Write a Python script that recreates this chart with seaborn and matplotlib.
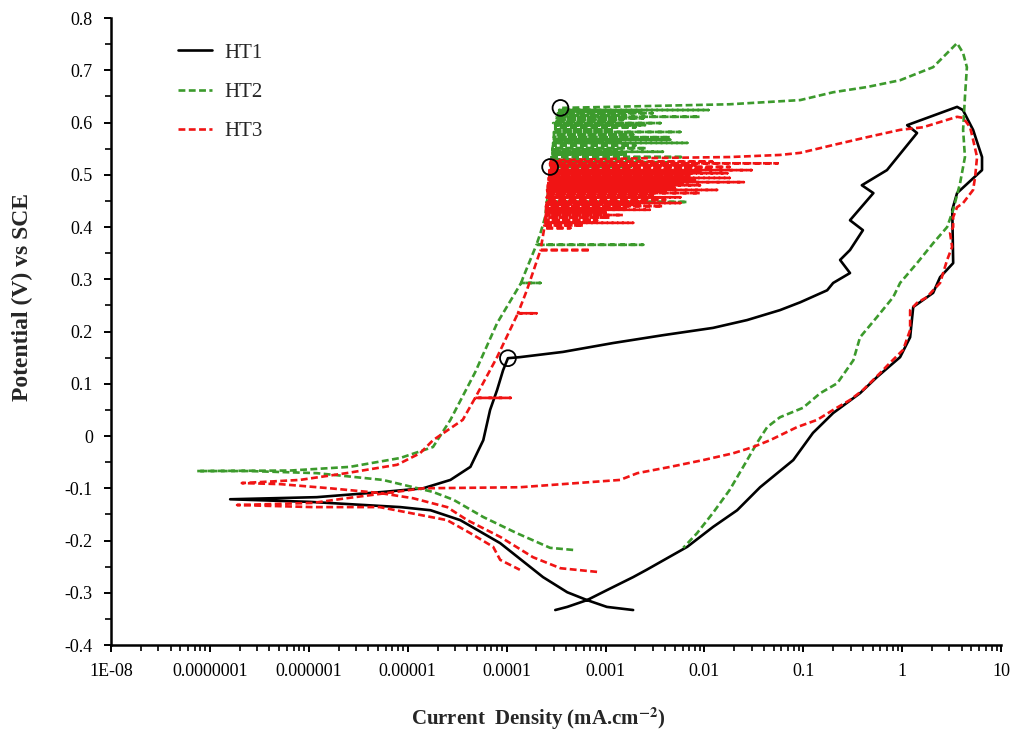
import numpy as np
import pandas as pd
import matplotlib
matplotlib.use("Agg")
import matplotlib.pyplot as plt
import seaborn as sns
from matplotlib.ticker import FixedLocator, FixedFormatter, LogLocator, MultipleLocator, NullFormatter

# HT1 (solid black): forward scan from cathodic end -> Ecorr -> pitting -> reverse
ht1_i = [1.9e-3, 1.03e-3, 6.5e-4, 4.1e-4, 2.33e-4, 8.6e-5, 3.4e-5, 1.7e-5, 8.4e-6, 1.03e-6, 1.6e-7,
         1.2e-6, 5.6e-6, 1.43e-5, 2.7e-5, 4.3e-5, 5.8e-5, 6.8e-5, 8.0e-5, 9.2e-5, 1.03e-4,
         1.36e-4, 3.7e-4, 1.19e-3, 3.8e-3, 0.0122, 0.027, 0.058, 0.093, 0.174, 0.20, 0.296,
         0.235, 0.296, 0.40, 0.296, 0.51, 0.39, 0.70, 1.41, 1.12, 3.58, 4.1, 5.2, 6.4, 6.4,
         3.58, 3.2, 3.27, 2.41, 2.05, 1.29, 1.2, 0.95, 0.556, 0.374, 0.20, 0.125, 0.079,
         0.0365, 0.0214, 0.0122, 6.7e-3, 2.6e-3, 1.9e-3, 1.03e-3, 6.5e-4, 4.1e-4, 3.1e-4]
ht1_e = [-0.333, -0.327, -0.314, -0.299, -0.270, -0.205, -0.161, -0.142, -0.136, -0.126, -0.121,
         -0.117, -0.107, -0.100, -0.084, -0.059, -0.008, 0.050, 0.088, 0.126, 0.149,
         0.151, 0.161, 0.178, 0.193, 0.207, 0.222, 0.241, 0.256, 0.279, 0.293, 0.312,
         0.337, 0.356, 0.394, 0.413, 0.465, 0.480, 0.509, 0.580, 0.595, 0.630, 0.624, 0.586, 0.534, 0.509,
         0.465, 0.433, 0.331, 0.304, 0.274, 0.247, 0.189, 0.151, 0.113, 0.082, 0.044, 0.006, -0.046,
         -0.098, -0.142, -0.174, -0.212, -0.256, -0.270, -0.295, -0.314, -0.327, -0.333]

# HT2 (green dashed)
ht2_cath_i = [4.7e-4, 2.75e-4, 1.27e-4, 5.8e-5, 2.9e-5, 1.8e-5, 5.6e-6, 1.2e-6, 2.5e-7, 7.4e-8]
ht2_cath_e = [-0.218, -0.214, -0.186, -0.155, -0.122, -0.107, -0.084, -0.071, -0.067, -0.067]
ht2_anod_i = [6.5e-7, 2.6e-6, 8.4e-6, 1.8e-5, 2.7e-5, 4.8e-5, 8.0e-5, 1.47e-4, 2.2e-4, 2.45e-4, 2.75e-4, 2.95e-4]
ht2_anod_e = [-0.066, -0.059, -0.042, -0.021, 0.031, 0.122, 0.216, 0.304, 0.389, 0.419, 0.503, 0.599]
# metastable pitting transients: potential, base current, peak current
ht2_pit_e = [0.293, 0.366, 0.448, 0.457, 0.471, 0.490, 0.505, 0.515, 0.519, 0.524, 0.529, 0.534,
             0.539, 0.544, 0.548, 0.551, 0.556, 0.561, 0.564, 0.567, 0.572, 0.577, 0.582, 0.587,
             0.591, 0.595, 0.599, 0.602, 0.605, 0.608, 0.611, 0.614, 0.618, 0.621, 0.624]
ht2_pit_base = [1.4e-4, 2.0e-4, 2.55e-4, 2.6e-4, 2.6e-4, 2.7e-4, 2.75e-4, 2.8e-4, 2.8e-4, 2.8e-4, 2.85e-4, 2.85e-4,
                2.9e-4, 2.9e-4, 2.9e-4, 2.9e-4, 2.95e-4, 2.95e-4, 3.0e-4, 3.0e-4, 3.0e-4, 3.0e-4, 3.0e-4, 3.1e-4,
                3.1e-4, 3.1e-4, 3.1e-4, 3.2e-4, 3.2e-4, 3.2e-4, 3.2e-4, 3.3e-4, 3.3e-4, 3.4e-4, 3.4e-4]
ht2_pit_peak = [2.2e-4, 2.4e-3, 6.7e-3, 3.0e-3, 2.0e-3, 1.5e-3, 1.2e-3, 1.8e-3, 1.1e-3, 4.5e-3, 2.2e-3, 6.1e-3,
                1.6e-3, 3.8e-3, 1.3e-3, 2.6e-3, 2.0e-3, 6.7e-3, 1.4e-3, 4.5e-3, 4.5e-3, 1.9e-3, 5.7e-3, 1.2e-3,
                2.0e-3, 2.5e-3, 3.6e-3, 1.3e-3, 1.5e-3, 2.4e-3, 9.0e-3, 1.6e-3, 3.0e-3, 2.2e-3, 0.011]
ht2_rev_i = [3.5e-4, 0.018, 0.093, 0.20, 0.44, 0.95, 2.05, 2.84, 3.58, 4.12, 4.5, 4.3, 4.12, 4.3,
             3.84, 3.27, 2.84, 2.05, 1.41, 0.95, 0.81, 0.556, 0.374, 0.32, 0.22, 0.148, 0.099,
             0.058, 0.043, 0.034, 0.027, 0.018, 0.0122, 8.4e-3, 6.1e-3]
ht2_rev_e = [0.628, 0.635, 0.643, 0.658, 0.668, 0.681, 0.706, 0.733, 0.752, 0.733, 0.706, 0.649, 0.586, 0.534,
             0.484, 0.433, 0.400, 0.369, 0.331, 0.293, 0.266, 0.228, 0.189, 0.145, 0.101, 0.082, 0.054,
             0.036, 0.017, -0.013, -0.046, -0.103, -0.147, -0.186, -0.214]

# HT3 (red dashed)
ht3_cath_i = [8.2e-4, 3.5e-4, 1.85e-4, 8.6e-5, 4.0e-5, 2.5e-5, 1.13e-5, 5.2e-6, 1.64e-6, 5.1e-7, 2.1e-7]
ht3_cath_e = [-0.260, -0.253, -0.232, -0.193, -0.161, -0.136, -0.119, -0.109, -0.100, -0.092, -0.090]
ht3_anod_i = [8.1e-7, 2.4e-6, 7.8e-6, 1.33e-5, 1.8e-5, 3.6e-5, 8.0e-5, 1.6e-4, 2.2e-4, 2.45e-4, 2.56e-4, 2.75e-4]
ht3_anod_e = [-0.084, -0.071, -0.055, -0.033, -0.008, 0.031, 0.151, 0.279, 0.356, 0.408, 0.471, 0.515]
ht3_pit_e = [0.073, 0.235, 0.356, 0.398, 0.403, 0.408, 0.413, 0.418, 0.423, 0.428, 0.433, 0.436,
             0.440, 0.443, 0.446, 0.449, 0.452, 0.457, 0.461, 0.465, 0.468, 0.471, 0.475, 0.480,
             0.483, 0.486, 0.490, 0.494, 0.498, 0.503, 0.506, 0.509, 0.512, 0.515, 0.518, 0.522, 0.525]
ht3_pit_base = [4.8e-5, 1.3e-4, 2.2e-4, 2.4e-4, 2.4e-4, 2.45e-4, 2.45e-4, 2.45e-4, 2.5e-4, 2.5e-4, 2.5e-4, 2.5e-4,
                2.5e-4, 2.55e-4, 2.55e-4, 2.55e-4, 2.55e-4, 2.55e-4, 2.6e-4, 2.6e-4, 2.6e-4, 2.6e-4, 2.6e-4, 2.6e-4,
                2.65e-4, 2.65e-4, 2.65e-4, 2.65e-4, 2.7e-4, 2.7e-4, 2.7e-4, 2.7e-4, 2.75e-4, 2.75e-4, 2.75e-4,
                2.75e-4, 2.8e-4]
ht3_pit_peak = [1.1e-4, 2.0e-4, 7.0e-4, 4.4e-4, 6.0e-4, 1.9e-3, 8.2e-4, 1.1e-3, 1.5e-3, 1.0e-3, 2.8e-3, 1.6e-3,
                3.8e-3, 2.2e-3, 5.7e-3, 2.5e-3, 4.0e-3, 5.7e-3, 3.0e-3, 9.0e-3, 4.0e-3, 0.0134, 5.0e-3, 9.0e-3,
                6.0e-3, 0.025, 8.0e-3, 0.018, 7.0e-3, 0.017, 9.0e-3, 0.03, 0.011, 0.018, 8.0e-3, 0.055, 0.012]
ht3_rev_i = [2.8e-4, 2.8e-3, 0.018, 0.058, 0.093, 0.20, 0.44, 0.95, 1.62, 3.58, 4.12, 4.85, 5.2, 5.7,
             5.45, 5.2, 4.12, 3.58, 3.27, 3.27, 3.04, 3.19, 2.84, 2.59, 2.41, 2.05, 1.78, 1.41, 1.2,
             1.2, 1.02, 0.75, 0.60, 0.40, 0.296, 0.20, 0.138, 0.086, 0.046, 0.031, 0.0195, 9.7e-3,
             4.5e-3, 2.1e-3, 1.4e-3, 1.36e-4, 1.43e-5, 6.2e-6, 2.4e-6, 1.1e-6, 1.88e-7, 1.1e-6,
             5.2e-6, 2.5e-5, 4.3e-5, 7.3e-5, 8.6e-5, 1.36e-4]
ht3_rev_e = [0.528, 0.532, 0.534, 0.538, 0.542, 0.557, 0.572, 0.586, 0.591, 0.611, 0.609, 0.591, 0.567, 0.534,
             0.496, 0.471, 0.446, 0.438, 0.419, 0.400, 0.389, 0.362, 0.337, 0.312, 0.293, 0.279, 0.266,
             0.255, 0.241, 0.203, 0.165, 0.140, 0.121, 0.088, 0.069, 0.050, 0.031, 0.017, -0.008,
             -0.021, -0.033, -0.046, -0.059, -0.071, -0.084, -0.098, -0.100, -0.109, -0.119, -0.128,
             -0.132, -0.136, -0.136, -0.161, -0.186, -0.212, -0.237, -0.256]

# pitting potentials marked with open circles
pit_i = [3.5e-4, 2.75e-4, 1.03e-4]
pit_e = [0.628, 0.515, 0.149]

x_ticks = [1e-8, 1e-7, 1e-6, 1e-5, 1e-4, 1e-3, 1e-2, 1e-1, 1, 10]
x_labels = ['1E-08', '0.0000001', '0.000001', '0.00001', '0.0001', '0.001', '0.01', '0.1', '1', '10']


def build_path(cath_i, cath_e, anod_i, anod_e, p_e, p_base, p_peak, rev_i, rev_e):
    # anodic branch with the current transients slotted in by potential
    seg_i, seg_e = list(anod_i), list(anod_e)
    for e, b, p in zip(p_e, p_base, p_peak):
        seg_i += [b, p, b]
        seg_e += [e, e, e]
    order = np.argsort(seg_e, kind='stable')
    seg_i = [seg_i[k] for k in order]
    seg_e = [seg_e[k] for k in order]
    return pd.DataFrame({'i': list(cath_i) + seg_i + list(rev_i),
                         'E': list(cath_e) + seg_e + list(rev_e)})


df1 = pd.DataFrame({'i': ht1_i, 'E': ht1_e})
df2 = build_path(ht2_cath_i, ht2_cath_e, ht2_anod_i, ht2_anod_e,
                 ht2_pit_e, ht2_pit_base, ht2_pit_peak, ht2_rev_i, ht2_rev_e)
df3 = build_path(ht3_cath_i, ht3_cath_e, ht3_anod_i, ht3_anod_e,
                 ht3_pit_e, ht3_pit_base, ht3_pit_peak, ht3_rev_i, ht3_rev_e)

sns.set_style('ticks')
plt.rcParams['font.family'] = ['Liberation Serif', 'DejaVu Serif']
plt.rcParams['mathtext.fontset'] = 'stix'

fig = plt.figure(figsize=(10.15, 7.31), dpi=100)
ax = fig.add_axes([0.1094, 0.1176, 0.877, 0.8577])

green = '#3c9a2c'
red = '#f01414'
dash = (0, (2.6, 1.3))

sns.lineplot(data=df1, x='i', y='E', sort=False, estimator=None, color='black',
             linewidth=1.9, ax=ax, label='HT1')
sns.lineplot(data=df2, x='i', y='E', sort=False, estimator=None, color=green,
             linewidth=1.9, linestyle=dash, ax=ax, label='HT2')
sns.lineplot(data=df3, x='i', y='E', sort=False, estimator=None, color=red,
             linewidth=1.9, linestyle=dash, ax=ax, label='HT3')
ax.scatter(pit_i, pit_e, s=130, facecolors='none', edgecolors='black', linewidths=1.3, zorder=5)

ax.set_xscale('log')
ax.set_xlim(1e-8, 10)
ax.set_ylim(-0.4, 0.8)
ax.xaxis.set_major_locator(FixedLocator(x_ticks))
ax.xaxis.set_major_formatter(FixedFormatter(x_labels))
ax.xaxis.set_minor_locator(LogLocator(base=10, subs=np.arange(2, 10), numticks=20))
ax.xaxis.set_minor_formatter(NullFormatter())
ax.yaxis.set_major_locator(MultipleLocator(0.1))
ax.yaxis.set_minor_locator(MultipleLocator(0.05))
ax.set_yticklabels([f'{v:g}' for v in np.round(ax.get_yticks(), 1)])

for s in ['top', 'right']:
    ax.spines[s].set_visible(False)
for s in ['left', 'bottom']:
    ax.spines[s].set_linewidth(1.8)
    ax.spines[s].set_color('black')
ax.tick_params(which='major', direction='out', length=5, width=1.4, colors='black',
               labelsize=13, pad=8)
ax.tick_params(which='minor', direction='out', length=4, width=1.2, colors='black')

ax.set_xlabel(r'Current  Density (mA.cm$^{\mathbf{-2}}$)', fontsize=15, fontweight='bold')
ax.set_ylabel('Potential (V) vs SCE', fontsize=17, fontweight='bold')
ax.xaxis.set_label_coords(0.48, -0.097)
ax.yaxis.set_label_coords(-0.088, 0.555)

ax.legend(loc='upper left', bbox_to_anchor=(0.054, 0.99), frameon=False, fontsize=15,
          handlelength=1.65, handletextpad=0.6, labelspacing=0.95)

fig.savefig('out.png', dpi=100)
